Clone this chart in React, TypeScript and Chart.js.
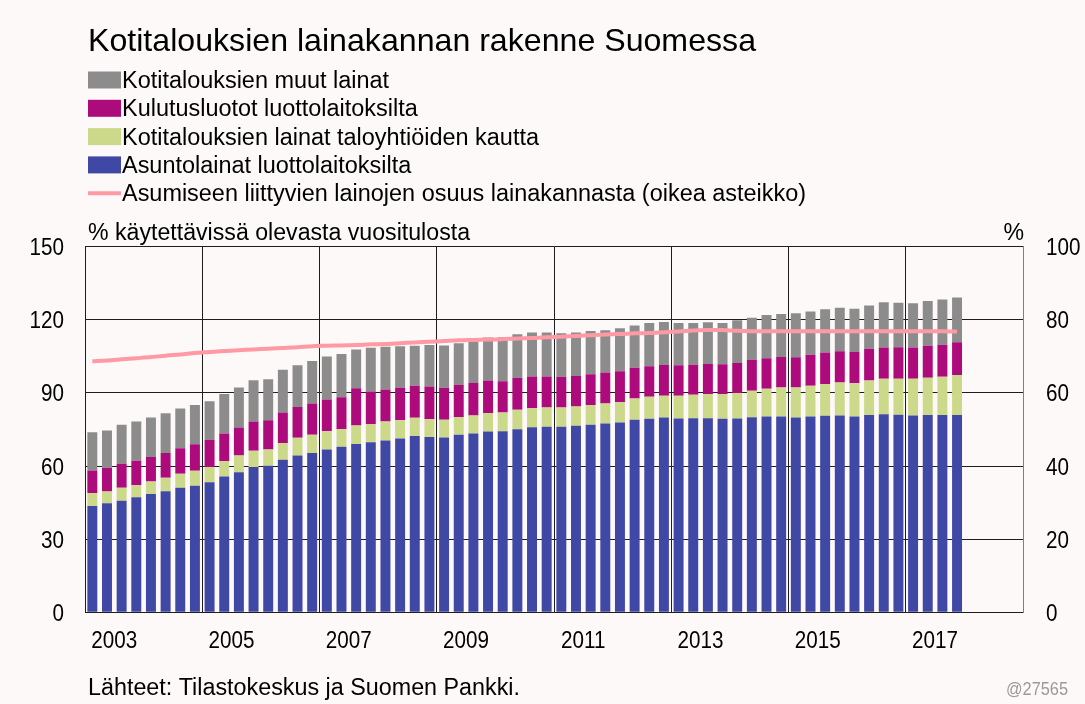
import React, { useEffect, useRef } from 'react';
import { Chart, registerables } from 'chart.js';

Chart.register(...registerables);

const FONT = '"Liberation Sans", Arial, Helvetica, sans-serif';

const title = 'Kotitalouksien lainakannan rakenne Suomessa';
const seriesNames = [
  'Kotitalouksien muut lainat',
  'Kulutusluotot luottolaitoksilta',
  'Kotitalouksien lainat taloyhtiöiden kautta',
  'Asuntolainat luottolaitoksilta',
  'Asumiseen liittyvien lainojen osuus lainakannasta (oikea asteikko)',
];
const leftAxisTitle = '% käytettävissä olevasta vuositulosta';
const rightAxisTitle = '%';
const sourceText = 'Lähteet: Tilastokeskus ja Suomen Pankki.';
const chartCode = '@27565';

const years = [2003, 2004, 2005, 2006, 2007, 2008, 2009, 2010, 2011, 2012, 2013, 2014, 2015, 2016, 2017, 2018];
const quarterNames = ['Q1', 'Q2', 'Q3', 'Q4'];
const yearTickLabels = ['2003', '2005', '2007', '2009', '2011', '2013', '2015', '2017'];

// Asuntolainat luottolaitoksilta
const housingLoans = [
  43.6, 44.7, 45.8, 47.2, 48.5, 49.7, 51.1, 51.9, 53.4, 55.7,
  57.5, 59.6, 60.1, 62.6, 64.3, 65.4, 66.8, 67.9, 69.1, 69.8,
  70.5, 71.3, 72.3, 71.9, 71.7, 72.8, 73.4, 74.2, 74.3, 75.1,
  75.9, 76.1, 76.1, 76.5, 77.0, 77.5, 77.9, 79.0, 79.4, 79.9,
  79.5, 79.6, 79.6, 79.4, 79.5, 80.0, 80.3, 80.3, 79.9, 80.3,
  80.6, 80.7, 80.3, 81.0, 81.3, 81.1, 80.7, 80.9, 80.9, 81.0,
];
// Kotitalouksien lainat taloyhtiöiden kautta
const housingCompanyLoans = [
  5.3, 4.9, 5.3, 4.9, 5.2, 5.5, 5.7, 6.2, 6.2, 6.3,
  6.8, 6.7, 6.7, 6.9, 7.3, 7.4, 7.5, 7.2, 7.5, 7.5,
  7.8, 7.5, 7.5, 7.3, 7.3, 7.2, 7.3, 7.6, 7.7, 8.0,
  7.8, 7.9, 7.9, 7.9, 8.1, 8.2, 8.3, 8.7, 9.0, 8.9,
  9.3, 9.7, 10.0, 10.2, 10.5, 10.9, 11.4, 11.9, 12.3, 12.6,
  13.1, 13.6, 13.7, 14.1, 14.5, 14.7, 15.1, 15.3, 15.7, 16.4,
];
// Kulutusluotot luottolaitoksilta
const consumerCredit = [
  9.3, 9.7, 9.8, 10.1, 10.0, 10.2, 10.5, 10.8, 11.2, 11.4,
  11.5, 12.0, 12.0, 12.5, 12.6, 12.9, 13.0, 13.1, 15.3, 13.3,
  13.1, 13.3, 13.2, 13.4, 13.1, 13.3, 13.4, 13.3, 12.8, 13.1,
  13.0, 12.7, 12.6, 12.6, 12.6, 12.7, 12.7, 12.6, 12.5, 12.7,
  12.6, 12.3, 12.3, 12.2, 12.3, 12.7, 12.5, 12.5, 12.4, 12.8,
  12.9, 12.8, 12.8, 13.0, 12.8, 12.9, 12.8, 13.2, 13.2, 13.4,
];
// Kotitalouksien muut lainat
const otherLoans = [
  15.7, 15.3, 16.0, 16.1, 16.2, 16.3, 16.3, 16.2, 15.8, 16.2,
  16.4, 16.9, 16.8, 17.5, 17.2, 17.4, 17.6, 17.8, 15.9, 17.9,
  17.6, 17.1, 16.4, 17.1, 17.4, 17.1, 17.0, 17.6, 18.0, 17.9,
  18.1, 18.1, 17.9, 17.8, 17.7, 17.3, 17.6, 17.4, 17.8, 17.6,
  17.3, 17.1, 17.1, 16.9, 17.5, 17.3, 17.8, 17.7, 18.1, 17.7,
  17.7, 17.9, 17.7, 17.8, 18.6, 18.3, 18.2, 18.3, 18.5, 18.4,
];
// Asumiseen liittyvien lainojen osuus lainakannasta (oikea asteikko), %
const housingShare = [
  68.7, 68.9, 69.2, 69.5, 69.8, 70.2, 70.5, 70.9, 71.2, 71.5,
  71.7, 71.9, 72.1, 72.3, 72.5, 72.8, 72.9, 73.0, 73.1, 73.3,
  73.4, 73.6, 73.8, 74.0, 74.2, 74.4, 74.5, 74.6, 74.7, 74.9,
  75.0, 75.2, 75.4, 75.6, 75.8, 76.0, 76.1, 76.3, 76.4, 76.6,
  76.8, 77.1, 77.2, 77.2, 77.0, 76.9, 76.9, 76.9, 76.9, 76.9,
  76.9, 76.9, 76.9, 76.9, 76.9, 76.9, 76.9, 76.9, 76.9, 76.8,
];

const COLORS = {
  bg: '#fdf9f8',
  other: '#8c8c8c',
  consumer: '#ad0b7c',
  company: '#cdd98a',
  housing: '#4048a6',
  share: '#ff9aa5',
  grid: '#1e1e1e',
  rightBorder: '#808080',
  code: '#9a9a9a',
};

const quarterLabels: string[] = [];
years.forEach((y) => quarterNames.forEach((q) => quarterLabels.push(`${y}${q}`)));

function drawText(
  ctx: CanvasRenderingContext2D,
  text: string,
  x: number,
  y: number,
  size: number,
  sx: number,
  align: 'left' | 'right' | 'center' = 'left',
  color = '#000'
) {
  ctx.save();
  ctx.font = `${size}px ${FONT}`;
  ctx.fillStyle = color;
  ctx.textAlign = 'left';
  ctx.textBaseline = 'alphabetic';
  const w = ctx.measureText(text).width * sx;
  const x0 = align === 'left' ? x : align === 'right' ? x - w : x - w / 2;
  ctx.translate(x0, y);
  ctx.scale(sx, 1);
  ctx.fillText(text, 0, 0);
  ctx.restore();
}

function fitScale(ctx: CanvasRenderingContext2D, text: string, size: number, width: number) {
  ctx.save();
  ctx.font = `${size}px ${FONT}`;
  const w = ctx.measureText(text).width;
  ctx.restore();
  return width / w;
}

const decorPlugin = {
  id: 'decor',
  beforeDraw(chart: any) {
    const ctx = chart.ctx as CanvasRenderingContext2D;
    ctx.save();
    ctx.fillStyle = COLORS.bg;
    ctx.fillRect(0, 0, chart.width, chart.height);
    ctx.restore();
  },
  afterDraw(chart: any) {
    const ctx = chart.ctx as CanvasRenderingContext2D;
    const area = chart.chartArea;
    const xs = chart.scales.x;
    const ys = chart.scales.y;
    const y1 = chart.scales.y1;

    // Title
    const tSize = 32;
    drawText(ctx, title, 88, 51, tSize, fitScale(ctx, title, tSize, 668));

    // Legend
    const lSize = 23;
    const lsx = fitScale(ctx, seriesNames[4], lSize, 684);
    const rowY = [80, 108.3, 136.6, 164.9, 193.2];
    const boxColors = [COLORS.other, COLORS.consumer, COLORS.company, COLORS.housing];
    seriesNames.forEach((name, i) => {
      const cy = rowY[i];
      if (i < 4) {
        ctx.save();
        ctx.fillStyle = boxColors[i];
        ctx.fillRect(88, cy - 8.5, 33, 17);
        ctx.restore();
      } else {
        ctx.save();
        ctx.strokeStyle = COLORS.share;
        ctx.lineWidth = 4;
        ctx.beginPath();
        ctx.moveTo(88, cy);
        ctx.lineTo(121, cy);
        ctx.stroke();
        ctx.restore();
      }
      drawText(ctx, name, 122, cy + 8, lSize, lsx);
    });

    // Axis titles
    const aSize = 23;
    const asx = fitScale(ctx, leftAxisTitle, aSize, 382);
    drawText(ctx, leftAxisTitle, 88, 240, aSize, asx);
    drawText(ctx, rightAxisTitle, 1024, 240, aSize, asx, 'right');

    // Tick labels
    const tickSize = 24;
    const tsx = 0.86;
    ys.ticks.forEach((t: any) => {
      const py = ys.getPixelForValue(t.value);
      drawText(ctx, String(t.value), 64, py + 8.5, tickSize, tsx, 'right');
    });
    y1.ticks.forEach((t: any) => {
      const py = y1.getPixelForValue(t.value);
      drawText(ctx, String(t.value), 1046, py + 8.5, tickSize, tsx, 'left');
    });
    yearTickLabels.forEach((lab) => {
      const idx = quarterLabels.indexOf(`${lab}Q2`);
      const px = (xs.getPixelForValue(idx) + xs.getPixelForValue(idx + 1)) / 2;
      drawText(ctx, lab, px, area.bottom + 36, tickSize, tsx, 'center');
    });

    // Footer
    const fSize = 23;
    drawText(ctx, sourceText, 88, 695, fSize, fitScale(ctx, sourceText, fSize, 432));
    drawText(ctx, chartCode, 1068, 695, 19, 0.86, 'right', COLORS.code);
  },
};

export default function App() {
  const canvasRef = useRef<HTMLCanvasElement | null>(null);

  useEffect(() => {
    const canvas = canvasRef.current;
    if (!canvas) return;
    const chart = new Chart(canvas, {
      type: 'bar',
      data: {
        labels: quarterLabels,
        datasets: [
          {
            type: 'line',
            label: seriesNames[4],
            data: housingShare,
            yAxisID: 'y1',
            borderColor: COLORS.share,
            backgroundColor: COLORS.share,
            borderWidth: 4,
            pointRadius: 0,
            tension: 0.3,
            order: 0,
          } as any,
          {
            label: seriesNames[3],
            data: housingLoans,
            backgroundColor: COLORS.housing,
            stack: 'loans',
            order: 1,
          },
          {
            label: seriesNames[2],
            data: housingCompanyLoans,
            backgroundColor: COLORS.company,
            stack: 'loans',
            order: 1,
          },
          {
            label: seriesNames[1],
            data: consumerCredit,
            backgroundColor: COLORS.consumer,
            stack: 'loans',
            order: 1,
          },
          {
            label: seriesNames[0],
            data: otherLoans,
            backgroundColor: COLORS.other,
            stack: 'loans',
            order: 1,
          },
        ],
      },
      options: {
        animation: false,
        responsive: false,
        maintainAspectRatio: false,
        datasets: {
          bar: { barPercentage: 0.68, categoryPercentage: 1.0 },
        },
        layout: { padding: { top: 246.7, left: 0, right: 0, bottom: 0 } },
        plugins: {
          legend: { display: false },
          title: { display: false },
          tooltip: { enabled: false },
        },
        scales: {
          x: {
            stacked: true,
            offset: true,
            grid: {
              offset: true,
              drawTicks: false,
              lineWidth: 1,
              color: (c: any) => (c.index % 8 === 0 ? COLORS.grid : 'rgba(0,0,0,0)'),
            },
            border: { display: true, color: COLORS.grid },
            ticks: { display: false, autoSkip: false },
            afterFit: (s: any) => {
              s.height = 704 - 612.3;
            },
          },
          y: {
            stacked: true,
            min: 0,
            max: 150,
            ticks: { stepSize: 30, display: false },
            grid: { color: COLORS.grid, drawTicks: false, lineWidth: 1 },
            border: { display: true, color: COLORS.grid },
            afterFit: (s: any) => {
              s.width = 85;
            },
          },
          y1: {
            position: 'right',
            min: 0,
            max: 100,
            ticks: { stepSize: 20, display: false },
            grid: { drawOnChartArea: false, drawTicks: false },
            border: { display: true, color: COLORS.rightBorder },
            afterFit: (s: any) => {
              s.width = 62;
            },
          },
        },
      },
      plugins: [decorPlugin],
    });
    return () => chart.destroy();
  }, []);

  return (
    <div style={{ position: 'absolute', left: 0, top: 0, width: 1085, height: 704, background: COLORS.bg }}>
      <canvas ref={canvasRef} width={1085} height={704} style={{ width: 1085, height: 704, display: 'block' }} />
    </div>
  );
}
